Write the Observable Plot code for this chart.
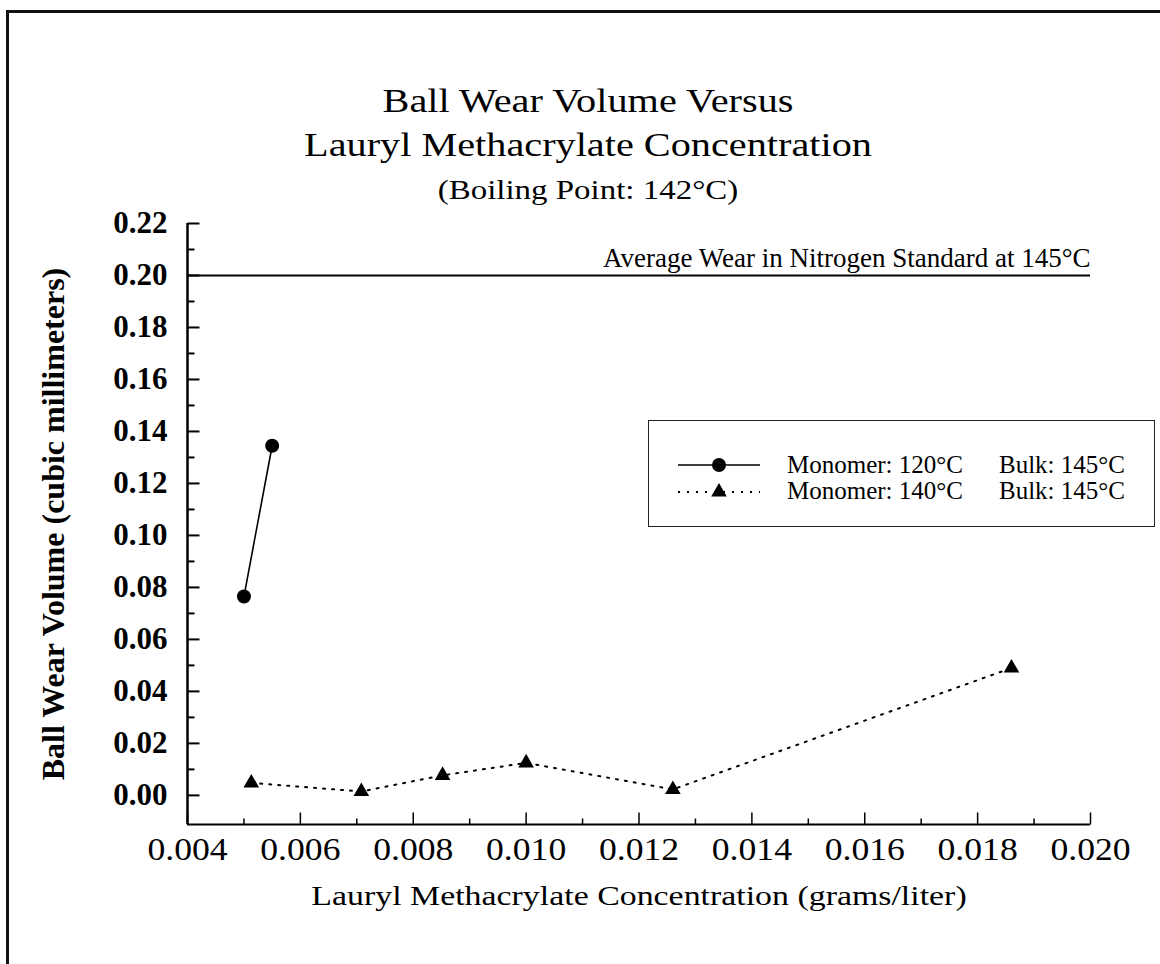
<!DOCTYPE html>
<html>
<head>
<meta charset="utf-8">
<script src="https://cdn.jsdelivr.net/npm/d3@7"></script>
<script src="https://cdn.jsdelivr.net/npm/@observablehq/plot@0.6"></script>
<style>
  html, body { margin: 0; padding: 0; background: #fff; }
  body { font-family: "Liberation Serif", "Times New Roman", serif; color: #000; }
  #page { position: relative; width: 1160px; height: 964px; overflow: hidden; background: #fff; }
  .bTop { position: absolute; left: 6px; top: 10px; width: 1154px; height: 3px; background: #111; }
  .bLeft { position: absolute; left: 6px; top: 10px; width: 3px; height: 954px; background: #111; }
  .t { position: absolute; left: 0; width: 1176px; text-align: center; white-space: nowrap; transform: scaleX(1.22); transform-origin: 588px 0; }
  #chart { position: absolute; left: 0; top: 0; }
  #legend { position: absolute; left: 648px; top: 420px; width: 507px; height: 107px; border: 1.5px solid #222; box-sizing: border-box; background: #fff; }
  #legend .row { position: absolute; left: 0; width: 100%; height: 24px; }
  #legend svg { position: absolute; left: 27px; }
  #legend .lab { position: absolute; display: block; top: 0; font-size: 25px; line-height: 24px; height: 24px; white-space: nowrap; }
</style>
</head>
<body>
<div id="page">
  <div class="bTop"></div>
  <div class="bLeft"></div>
  <div id="chart"></div>
  <div class="t" id="t1" style="top:85px;font-size:33px;line-height:33px;"></div>
  <div class="t" id="t2" style="top:129px;font-size:33px;line-height:33px;"></div>
  <div class="t" id="t3" style="top:177px;font-size:27px;line-height:27px;"></div>
  <div id="legend"></div>
</div>
<script>
// ---- data ----
const titleLines = ["Ball Wear Volume Versus", "Lauryl Methacrylate Concentration", "(Boiling Point: 142°C)"];
const xLabel = "Lauryl Methacrylate Concentration (grams/liter)";
const yLabel = "Ball Wear Volume (cubic millimeters)";
const refLabel = "Average Wear in Nitrogen Standard at 145°C";
const refValue = 0.20;

const series1Name = ["Monomer: 120°C", "Bulk: 145°C"];
const series1X = [0.0050, 0.0055];
const series1Y = [0.0765, 0.1345];

const series2Name = ["Monomer: 140°C", "Bulk: 145°C"];
const series2X = [0.00513, 0.00708, 0.00852, 0.0100, 0.0126, 0.0186];
const series2Y = [0.0048, 0.0015, 0.0077, 0.0125, 0.0023, 0.0490];

const xDomain = [0.004, 0.020];
const yDomain = [-0.0112, 0.22];
const xTicks = [0.004, 0.006, 0.008, 0.010, 0.012, 0.014, 0.016, 0.018, 0.020];
const xMinorTicks = [0.005, 0.007, 0.009, 0.011, 0.013, 0.015, 0.017, 0.019];
const yTicks = [0.00, 0.02, 0.04, 0.06, 0.08, 0.10, 0.12, 0.14, 0.16, 0.18, 0.20, 0.22];
const yMinorTicks = [0.01, 0.03, 0.05, 0.07, 0.09, 0.11, 0.13, 0.15, 0.17, 0.19, 0.21];

// ---- build ----
const s1 = series1X.map((x, i) => ({x, y: series1Y[i]}));
const s2 = series2X.map((x, i) => ({x, y: series2Y[i]}));
const serif = '"Liberation Serif", "Times New Roman", serif';
const tickStyle = {anchor: "start", r: 0, strokeLinecap: "butt", stroke: "black"};

const chart = Plot.plot({
  width: 1160,
  height: 964,
  marginLeft: 187,
  marginRight: 70,
  marginTop: 223,
  marginBottom: 140,
  style: {fontFamily: serif, background: "transparent", color: "#000", overflow: "visible"},
  x: {domain: xDomain},
  y: {domain: yDomain},
  marks: [
    Plot.ruleY([refValue], {strokeWidth: 2}),
    Plot.text([refLabel], {y: () => refValue, frameAnchor: "right", textAnchor: "end", lineAnchor: "bottom", dy: -8, fontSize: 27}),
    Plot.ruleX([xDomain[0]], {strokeWidth: 2.5}),
    Plot.ruleY([yDomain[0]], {strokeWidth: 2}),
    // inward ticks
    Plot.vector(yTicks, {y: d => d, frameAnchor: "left", rotate: 90, length: 12, strokeWidth: 2, ...tickStyle}),
    Plot.vector(yMinorTicks, {y: d => d, frameAnchor: "left", rotate: 90, length: 7, strokeWidth: 2, ...tickStyle}),
    Plot.vector(xTicks, {x: d => d, frameAnchor: "bottom", rotate: 0, length: 12, strokeWidth: 1.5, ...tickStyle}),
    Plot.vector(xMinorTicks, {x: d => d, frameAnchor: "bottom", rotate: 0, length: 6, strokeWidth: 1.5, ...tickStyle}),
    // tick labels
    Plot.axisY(yTicks, {tickSize: 0, tickPadding: 20, tickFormat: d3.format(".2f"), fontSize: 31, fontWeight: "bold", label: null}),
    Plot.axisX(xTicks, {tickSize: 0, tickPadding: 13, tickFormat: d3.format(".3f"), fontSize: 31, label: null}),
    Plot.text([xLabel], {frameAnchor: "bottom", textAnchor: "middle", lineAnchor: "bottom", dy: 80, fontSize: 28}),
    Plot.text([yLabel], {frameAnchor: "left", textAnchor: "middle", dx: -134, rotate: -90, fontSize: 32, fontWeight: "bold"}),
    // data
    Plot.line(s1, {x: "x", y: "y", stroke: "black", strokeWidth: 1.6}),
    Plot.dot(s1, {x: "x", y: "y", symbol: "circle", r: 7, fill: "black"}),
    Plot.line(s2, {x: "x", y: "y", stroke: "black", strokeWidth: 2, strokeDasharray: "2,7"}),
    Plot.dot(s2, {x: "x", y: "y", symbol: "triangle", r: 5.8, fill: "black"})
  ]
});
// the original typeface is wider than Times: stretch axis texts horizontally
function stretchText(el, k) {
  const tr = el.getAttribute("transform") || "";
  el.setAttribute("transform", tr + ` scale(${k},1)`);
}
const xTickStrings = new Set(xTicks.map(d3.format(".3f")));
chart.querySelectorAll("text").forEach(t => {
  const s = t.textContent;
  if (s === xLabel) stretchText(t, 1.21);
  else if (xTickStrings.has(s)) stretchText(t, 1.15);
});
document.getElementById("chart").appendChild(chart);

document.getElementById("t1").textContent = titleLines[0];
document.getElementById("t2").textContent = titleLines[1];
document.getElementById("t3").textContent = titleLines[2];

// ---- legend ----
const legend = document.getElementById("legend");
const rows = [
  {name: series1Name, dash: null, sym: "circle", top: 32, symTop: -3},
  {name: series2Name, dash: "2,7", sym: "triangle", top: 58, symTop: -2}
];
const ns = "http://www.w3.org/2000/svg";
rows.forEach(r => {
  const row = document.createElement("div");
  row.className = "row";
  row.style.top = r.top + "px";
  const svg = document.createElementNS(ns, "svg");
  svg.setAttribute("width", 86); svg.setAttribute("height", 30);
  svg.style.top = r.symTop + "px";
  const ln = document.createElementNS(ns, "line");
  ln.setAttribute("x1", 2); ln.setAttribute("x2", 84); ln.setAttribute("y1", 15); ln.setAttribute("y2", 15);
  ln.setAttribute("stroke", "black"); ln.setAttribute("stroke-width", r.dash ? 2 : 1.6);
  if (r.dash) ln.setAttribute("stroke-dasharray", r.dash);
  svg.appendChild(ln);
  const p = document.createElementNS(ns, "path");
  p.setAttribute("d", d3.symbol(r.sym === "circle" ? d3.symbolCircle : d3.symbolTriangle, r.sym === "circle" ? Math.PI*49 : Math.PI*5.8*5.8)());
  p.setAttribute("transform", "translate(43,15)");
  svg.appendChild(p);
  row.appendChild(svg);
  const a = document.createElement("span");
  a.className = "lab"; a.style.left = "138px"; a.textContent = r.name[0];
  const b = document.createElement("span");
  b.className = "lab"; b.style.left = "350px"; b.textContent = r.name[1];
  row.appendChild(a); row.appendChild(b);
  legend.appendChild(row);
});
</script>
</body>
</html>
